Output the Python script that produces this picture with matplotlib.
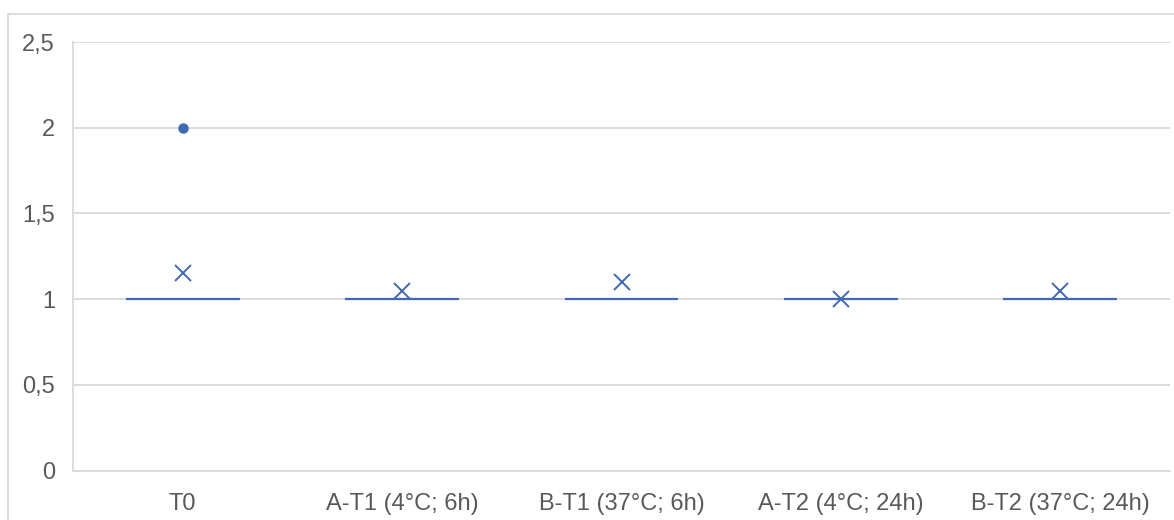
import matplotlib
matplotlib.use("Agg")
import matplotlib.pyplot as plt
from matplotlib.patches import Rectangle

# --- data ---
categories = ["T0", "A-T1 (4°C; 6h)", "B-T1 (37°C; 6h)", "A-T2 (4°C; 24h)", "B-T2 (37°C; 24h)"]
q1 = [1, 1, 1, 1, 1]
median = [1, 1, 1, 1, 1]
q3 = [1, 1, 1, 1, 1]
whisker_lo = [1, 1, 1, 1, 1]
whisker_hi = [1, 1, 1, 1, 1]
means = [1.15, 1.05, 1.10, 1.00, 1.05]
outliers = [[2], [], [], [], []]
yticks = [0, 0.5, 1, 1.5, 2, 2.5]

blue = "#4068B4"
grid_gray = "#D9D9D9"
text_gray = "#595959"

plt.rcParams["font.family"] = ["Liberation Sans", "DejaVu Sans"]

fig = plt.figure(figsize=(11.74, 5.2), dpi=100)
ax = fig.add_axes([73 / 1174, 1 - 470.5 / 520, (1170 - 73) / 1174, (470.5 - 42) / 520])

stats = []
for i, name in enumerate(categories):
    stats.append({
        "label": name,
        "q1": q1[i], "med": median[i], "q3": q3[i],
        "whislo": whisker_lo[i], "whishi": whisker_hi[i],
        "mean": means[i], "fliers": outliers[i],
    })

positions = list(range(len(categories)))
ax.bxp(stats, positions=positions, widths=0.51, showmeans=True, showcaps=False,
       boxprops=dict(color=blue, linewidth=1.5),
       medianprops=dict(color=blue, linewidth=1.5),
       whiskerprops=dict(color=blue, linewidth=1.5),
       meanprops=dict(marker="x", markeredgecolor=blue, markersize=12, markeredgewidth=1.4),
       flierprops=dict(marker="o", markerfacecolor=blue, markeredgecolor=blue, markersize=6.5),
       zorder=3)

ax.set_xlim(-0.5, len(categories) - 0.5)
ax.set_ylim(0, 2.5)
ax.set_yticks(yticks)
ax.set_yticklabels([f"{v:g}".replace(".", ",") for v in yticks])
ax.set_xticks(positions)
ax.set_xticklabels(categories)

ax.yaxis.grid(True, color=grid_gray, linewidth=1.3)
ax.set_axisbelow(True)
ax.tick_params(axis="both", length=0, labelsize=17, labelcolor=text_gray)
ax.tick_params(axis="y", pad=13)
ax.tick_params(axis="x", pad=16)

for side in ["top", "right"]:
    ax.spines[side].set_visible(False)
for side in ["left", "bottom"]:
    ax.spines[side].set_color(grid_gray)
    ax.spines[side].set_linewidth(1.3)

# outer chart border (only top and left edges fall inside the image)
border = Rectangle((8 / 1174, -0.1), 1.2, 1 - 14 / 520 + 0.1, transform=fig.transFigure,
                   fill=False, edgecolor=grid_gray, linewidth=1.3)
fig.patches.append(border)

fig.savefig("out.png", dpi=100)
